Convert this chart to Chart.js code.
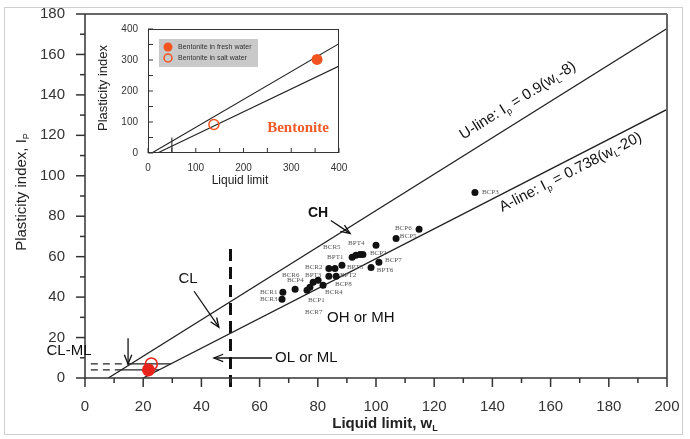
<!DOCTYPE html>
<html>
<head>
<meta charset="utf-8">
<script src="https://cdn.jsdelivr.net/npm/chart.js@4.4.1/dist/chart.umd.min.js"></script>
<style>
  body { margin: 0; background: #fff; }
  #wrap { position: relative; width: 690px; height: 439px; }
  #main { position: absolute; left: 0; top: 0; }
  #inset { position: absolute; left: 90px; top: 20px; }
</style>
</head>
<body>
<div id="wrap">
  <canvas id="main" width="690" height="439" style="width:690px;height:439px"></canvas>
  <canvas id="inset" width="260" height="175" style="width:260px;height:175px"></canvas>
</div>
<script>
const FONT = '"Liberation Sans", Arial, sans-serif';
const SERIF = '"Liberation Serif", "Times New Roman", serif';

// soil samples: liquid limit / plasticity index
const sampleWl = [134.0, 114.8, 106.9, 100.0, 91.8, 93.1, 94.5, 95.5, 101.0, 98.3, 88.3, 83.8,
  85.9, 83.8, 86.3, 78.4, 80.1, 81.8, 77.3, 72.2, 76.3, 68.0, 67.7];
const sampleIp = [91.7, 73.5, 69.0, 65.6, 59.7, 60.7, 61.1, 61.1, 57.2, 54.7, 55.7, 54.2,
  54.2, 50.3, 50.3, 47.3, 48.3, 45.9, 44.9, 43.9, 43.4, 42.4, 39.0];

// sample names and where their tags sit (wL, Ip)
const tagText = ['BCP3', 'BCP6', 'BCP5', 'BCR5', 'BPT4', 'BPT1', 'BCP2', 'BCP7', 'BPT6', 'BCR2', 'BPT5',
  'BPT3', 'BPT2', 'BCR6', 'BCP4', 'BCP8', 'BCR4', 'BCR1', 'BCR3', 'BCP1', 'BCR7'];
const tagWl = [136.4, 106.5, 108.2, 81.8, 90.4, 83.2, 97.9, 103.1, 100.3, 75.6, 90.0,
  75.6, 87.6, 67.7, 69.4, 85.9, 82.5, 60.1, 60.1, 76.6, 75.6];
const tagIp = [91.7, 74.0, 70.0, 64.6, 66.6, 59.7, 61.6, 58.2, 53.3, 54.7, 54.7,
  50.8, 50.8, 50.8, 48.3, 46.4, 42.4, 42.4, 39.0, 38.5, 32.5];

// bentonite
const freshWl = [21.8], freshIp = [4.0];
const saltWl = [22.8], saltIp = [6.9];
const insetFreshWl = [354], insetFreshIp = [302];
const insetSaltWl = [138], insetSaltIp = [92];

// reference lines
const uLineWl = [8, 200], uLineIp = [0, 172.8];
const aLineWl = [20, 200], aLineIp = [0, 132.8];
const insetULineWl = [8, 400], insetULineIp = [0, 352.8];
const insetALineWl = [20, 400], insetALineIp = [0, 280.4];
const ll50Wl = [50, 50], ll50Ip = [-4.5, 64];
const insetLl50Wl = [50, 50], insetLl50Ip = [0, 50];
const clml7DashWl = [2, 15.8], clml7SolidWl = [15.8, 29.5], clml7Ip = [7, 7];
const clml4DashWl = [2, 12.4], clml4SolidWl = [12.4, 25.4], clml4Ip = [4, 4];

// axes
const xTicks = [0, 20, 40, 60, 80, 100, 120, 140, 160, 180, 200];
const yTicks = [0, 20, 40, 60, 80, 100, 120, 140, 160, 180];
const insetTicks = [0, 100, 200, 300, 400];

function pts(xs, ys) {
  return xs.map((x, i) => ({ x: x, y: ys[i] }));
}

function lineSet(xs, ys, extra) {
  return Object.assign({
    data: pts(xs, ys), showLine: true, pointRadius: 0, borderColor: '#222',
    borderWidth: 1.3, fill: false
  }, extra || {});
}

// keep the plot box where the layout padding puts it
function noPad(s) {
  s.paddingTop = 0; s.paddingBottom = 0; s.paddingLeft = 0; s.paddingRight = 0;
}

function richText(ctx, parts, x, y, size, weight, align) {
  const fontFor = p => `${weight} ${p[1] ? Math.round(size * 0.62) : size}px ${FONT}`;
  const widths = parts.map(p => { ctx.font = fontFor(p); return ctx.measureText(p[0]).width; });
  const total = widths.reduce((a, b) => a + b, 0);
  let cx = align === 'center' ? x - total / 2 : (align === 'right' ? x - total : x);
  ctx.textAlign = 'left';
  ctx.textBaseline = 'middle';
  parts.forEach((p, i) => {
    ctx.font = fontFor(p);
    ctx.fillText(p[0], cx, y + (p[1] ? size * 0.32 : 0));
    cx += widths[i];
  });
}

function seg(ctx, x1, y1, x2, y2) {
  ctx.beginPath(); ctx.moveTo(x1, y1); ctx.lineTo(x2, y2); ctx.stroke();
}

function arrow(ctx, x1, y1, x2, y2) {
  seg(ctx, x1, y1, x2, y2);
  const a = Math.atan2(y2 - y1, x2 - x1), h = 10;
  ctx.beginPath();
  ctx.moveTo(x2 - h * Math.cos(a - 0.38), y2 - h * Math.sin(a - 0.38));
  ctx.lineTo(x2, y2);
  ctx.lineTo(x2 - h * Math.cos(a + 0.38), y2 - h * Math.sin(a + 0.38));
  ctx.stroke();
}

// label along a line: anchor at wL on the line, offset perpendicular (px)
function lineLabel(ctx, chart, xs, ys, wl, off, parts) {
  const sx = chart.scales.x, sy = chart.scales.y;
  const x1 = sx.getPixelForValue(xs[0]), y1 = sy.getPixelForValue(ys[0]);
  const x2 = sx.getPixelForValue(xs[1]), y2 = sy.getPixelForValue(ys[1]);
  const ang = Math.atan2(y2 - y1, x2 - x1);
  const t = (wl - xs[0]) / (xs[1] - xs[0]);
  const px = x1 + (x2 - x1) * t, py = y1 + (y2 - y1) * t;
  ctx.save();
  ctx.translate(px + off * Math.sin(ang), py - off * Math.cos(ang));
  ctx.rotate(ang);
  richText(ctx, parts, 0, 0, 15, 'normal', 'center');
  ctx.restore();
}

const mainDecor = {
  id: 'mainDecor',
  beforeDraw(chart) {
    const ctx = chart.ctx;
    ctx.save();
    ctx.fillStyle = '#fff';
    ctx.fillRect(0, 0, chart.width, chart.height);
    ctx.strokeStyle = '#cfcfcf';
    ctx.lineWidth = 1;
    ctx.strokeRect(4.5, 7.5, 678, 427);
    ctx.restore();
  },
  afterDraw(chart) {
    const ctx = chart.ctx, ca = chart.chartArea;
    const sx = chart.scales.x, sy = chart.scales.y;
    const X = v => sx.getPixelForValue(v), Y = v => sy.getPixelForValue(v);
    ctx.save();
    // frame
    ctx.strokeStyle = '#666';
    ctx.lineWidth = 2;
    seg(ctx, ca.left, ca.top, ca.right, ca.top);
    seg(ctx, ca.right, ca.top, ca.right, ca.bottom);
    ctx.strokeStyle = '#333';
    ctx.lineWidth = 1.5;
    seg(ctx, ca.left, ca.top, ca.left, ca.bottom);
    seg(ctx, ca.left, ca.bottom, ca.right, ca.bottom);
    // ticks, majors every 20, minors every 10
    for (let v = 0; v <= 200; v += 10) seg(ctx, X(v), ca.bottom, X(v), ca.bottom + (v % 20 ? 5 : 9));
    for (let v = 0; v <= 180; v += 10) seg(ctx, ca.left - (v % 20 ? 5 : 9), Y(v), ca.left, Y(v));

    // axis titles
    ctx.fillStyle = '#222';
    richText(ctx, [['Liquid limit, w', 0], ['L', 1]], 385, 424, 15, 'bold', 'center');
    ctx.save();
    ctx.translate(22, 192);
    ctx.rotate(-Math.PI / 2);
    richText(ctx, [['Plasticity index, I', 0], ['P', 1]], 0, 0, 15, 'normal', 'center');
    ctx.restore();

    // line labels
    ctx.fillStyle = '#111';
    lineLabel(ctx, chart, uLineWl, uLineIp, 152, 18,
      [['U-line: I', 0], ['p', 1], [' = 0.9(w', 0], ['L', 1], ['-8)', 0]]);
    lineLabel(ctx, chart, aLineWl, aLineIp, 165, -12,
      [['A-line: I', 0], ['p', 1], [' = 0.738(w', 0], ['L', 1], ['-20)', 0]]);

    // zone labels
    ctx.font = `15px ${FONT}`;
    ctx.textBaseline = 'middle';
    ctx.textAlign = 'center';
    ctx.fillText('CL-ML', X(-5.5), Y(13.3));
    ctx.fillText('CL', X(35.4), Y(48.8));
    ctx.textAlign = 'left';
    ctx.fillText('OL or ML', X(65.3), Y(9.9));
    ctx.fillText('OH or MH', X(83.2), Y(29.6));
    ctx.font = `bold 14px ${FONT}`;
    ctx.textAlign = 'center';
    ctx.fillText('CH', X(80.1), Y(81.4));

    ctx.strokeStyle = '#111';
    ctx.lineWidth = 1.3;
    arrow(ctx, X(14.8), Y(19.7), X(14.8), Y(6.9));
    arrow(ctx, X(37.5), Y(42.9), X(46.0), Y(25.1));
    arrow(ctx, X(64.3), Y(9.9), X(44.3), Y(9.9));
    arrow(ctx, X(84.5), Y(77.9), X(91.1), Y(71.5));

    // sample tags
    ctx.fillStyle = '#555';
    ctx.font = `7px ${SERIF}`;
    ctx.textAlign = 'left';
    tagText.forEach((t, i) => ctx.fillText(t, X(tagWl[i]), Y(tagIp[i])));
    ctx.restore();
  }
};

new Chart(document.getElementById('main'), {
  type: 'scatter',
  data: {
    datasets: [
      { data: pts(sampleWl, sampleIp), pointRadius: 3.5, pointBackgroundColor: '#111', pointBorderWidth: 0 },
      { data: pts(saltWl, saltIp), pointRadius: 6, pointBackgroundColor: 'rgba(0,0,0,0)', pointBorderColor: '#e8231b', pointBorderWidth: 1.6 },
      { data: pts(freshWl, freshIp), pointRadius: 6.5, pointBackgroundColor: '#e8231b', pointBorderWidth: 0 },
      lineSet(uLineWl, uLineIp),
      lineSet(aLineWl, aLineIp),
      lineSet(clml7DashWl, clml7Ip, { borderDash: [7, 5] }),
      lineSet(clml7SolidWl, clml7Ip),
      lineSet(clml4DashWl, clml4Ip, { borderDash: [7, 5] }),
      lineSet(clml4SolidWl, clml4Ip),
      lineSet(ll50Wl, ll50Ip, { borderDash: [12, 6], borderWidth: 3, borderColor: '#111', clip: false })
    ]
  },
  options: {
    responsive: false,
    animation: false,
    layout: { padding: { top: 14, right: 23, left: 0, bottom: 0 } },
    plugins: { legend: { display: false }, tooltip: { enabled: false } },
    scales: {
      x: {
        type: 'linear', min: 0, max: 200,
        afterBuildTicks: s => { s.ticks = xTicks.map(v => ({ value: v })); },
        afterFit: s => { s.height = 61; noPad(s); },
        grid: { display: false, drawTicks: false },
        border: { display: false },
        ticks: { padding: 20, color: '#333', font: { size: 15, family: FONT } }
      },
      y: {
        type: 'linear', min: 0, max: 180,
        afterBuildTicks: s => { s.ticks = yTicks.map(v => ({ value: v })); },
        afterFit: s => { s.width = 85; noPad(s); },
        grid: { display: false, drawTicks: false },
        border: { display: false },
        ticks: { padding: 20, color: '#333', font: { size: 15, family: FONT } }
      }
    }
  },
  plugins: [mainDecor]
});

const insetDecor = {
  id: 'insetDecor',
  afterDraw(chart) {
    const ctx = chart.ctx, ca = chart.chartArea;
    const sx = chart.scales.x, sy = chart.scales.y;
    ctx.save();
    ctx.strokeStyle = '#333';
    ctx.lineWidth = 1;
    ctx.strokeRect(ca.left + 0.5, ca.top + 0.5, ca.right - ca.left - 1, ca.bottom - ca.top - 1);
    for (let v = 0; v <= 400; v += 50) {
      seg(ctx, sx.getPixelForValue(v), ca.bottom, sx.getPixelForValue(v), ca.bottom - 5);
      seg(ctx, ca.left, sy.getPixelForValue(v), ca.left + 5, sy.getPixelForValue(v));
    }
    // titles
    ctx.fillStyle = '#222';
    ctx.font = `12px ${FONT}`;
    ctx.textAlign = 'center';
    ctx.textBaseline = 'middle';
    ctx.fillText('Liquid limit', 150, 161);
    ctx.save();
    ctx.translate(13, 68);
    ctx.rotate(-Math.PI / 2);
    ctx.font = `13px ${FONT}`;
    ctx.fillText('Plasticity index', 0, 0);
    ctx.restore();
    // legend
    ctx.fillStyle = '#c9c9c9';
    ctx.fillRect(69, 19, 99, 28);
    ctx.fillStyle = '#f1541f';
    ctx.beginPath(); ctx.arc(78, 27, 4.5, 0, Math.PI * 2); ctx.fill();
    ctx.strokeStyle = '#f1541f';
    ctx.lineWidth = 1.5;
    ctx.beginPath(); ctx.arc(78, 38, 4, 0, Math.PI * 2); ctx.stroke();
    ctx.fillStyle = '#333';
    ctx.font = `7px ${FONT}`;
    ctx.textAlign = 'left';
    ctx.fillText('Bentonite in fresh water', 88, 27);
    ctx.fillText('Bentonite in salt water', 88, 38);
    // label
    ctx.fillStyle = '#f05a28';
    ctx.font = `bold 15px ${SERIF}`;
    ctx.textAlign = 'center';
    ctx.fillText('Bentonite', 208, 108);
    ctx.restore();
  }
};

new Chart(document.getElementById('inset'), {
  type: 'scatter',
  data: {
    datasets: [
      { data: pts(insetFreshWl, insetFreshIp), pointRadius: 5.5, pointBackgroundColor: '#f1541f', pointBorderWidth: 0 },
      { data: pts(insetSaltWl, insetSaltIp), pointRadius: 5, pointBackgroundColor: 'rgba(0,0,0,0)', pointBorderColor: '#f1541f', pointBorderWidth: 1.5 },
      lineSet(insetULineWl, insetULineIp, { borderWidth: 1.1 }),
      lineSet(insetALineWl, insetALineIp, { borderWidth: 1.1 }),
      lineSet(insetLl50Wl, insetLl50Ip, { borderWidth: 1 })
    ]
  },
  options: {
    responsive: false,
    animation: false,
    layout: { padding: { top: 9, right: 11, left: 0, bottom: 0 } },
    plugins: { legend: { display: false }, tooltip: { enabled: false } },
    scales: {
      x: {
        type: 'linear', min: 0, max: 400,
        afterBuildTicks: s => { s.ticks = insetTicks.map(v => ({ value: v })); },
        afterFit: s => { s.height = 42; noPad(s); },
        grid: { display: false, drawTicks: false },
        border: { display: false },
        ticks: { padding: 9, color: '#333', font: { size: 10, family: FONT } }
      },
      y: {
        type: 'linear', min: 0, max: 400,
        afterBuildTicks: s => { s.ticks = insetTicks.map(v => ({ value: v })); },
        afterFit: s => { s.width = 58; noPad(s); },
        grid: { display: false, drawTicks: false },
        border: { display: false },
        ticks: { padding: 10, color: '#333', font: { size: 10, family: FONT } }
      }
    }
  },
  plugins: [insetDecor]
});
</script>
</body>
</html>
